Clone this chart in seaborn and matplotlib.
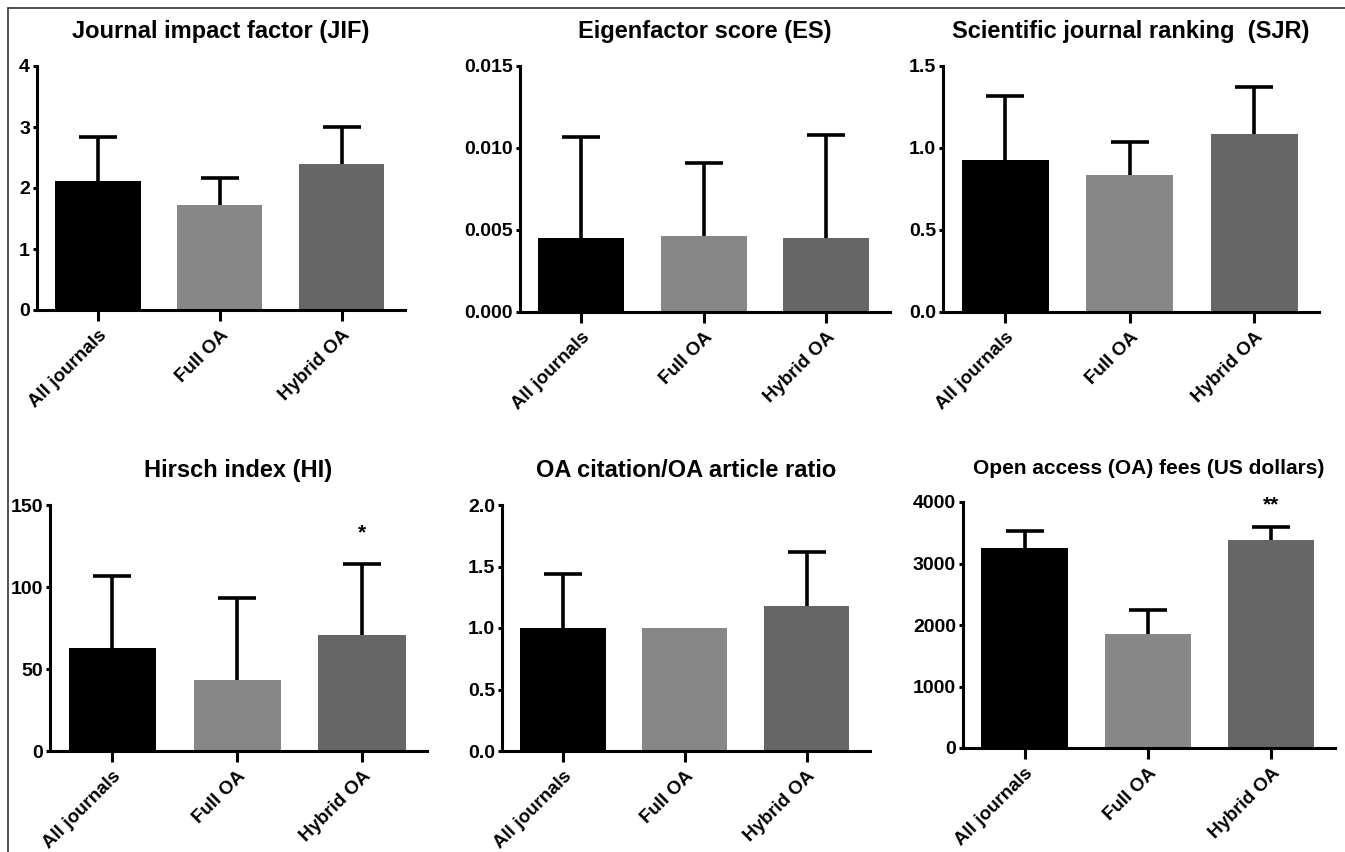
import numpy as np
import pandas as pd
import matplotlib
matplotlib.use("Agg")
import matplotlib.pyplot as plt
import seaborn as sns
from matplotlib.lines import Line2D

# journal groups (x categories)
groups = ["All journals", "Full OA", "Hybrid OA"]
bar_colors = ["#000000", "#878787", "#666666"]

# mean values and upper SD
jif_mean = [2.12, 1.72, 2.40]
jif_sd = [0.71, 0.44, 0.60]
es_mean = [0.00453, 0.00461, 0.00453]
es_sd = [0.00614, 0.00448, 0.00624]
sjr_mean = [0.925, 0.833, 1.083]
sjr_sd = [0.392, 0.204, 0.289]
hi_mean = [63, 43, 71]
hi_sd = [44, 50, 43]
ratio_mean = [1.00, 1.00, 1.18]
ratio_sd = [0.44, 0.0, 0.44]
fee_mean = [3257, 1859, 3377]
fee_sd = [271, 379, 216]

titles = ["Journal impact factor (JIF)", "Eigenfactor score (ES)",
          "Scientific journal ranking  (SJR)", "Hirsch index (HI)",
          "OA citation/OA article ratio", "Open access (OA) fees (US dollars)"]
y_ticks = [[0, 1, 2, 3, 4], [0, 0.005, 0.010, 0.015], [0, 0.5, 1.0, 1.5],
           [0, 50, 100, 150], [0, 0.5, 1.0, 1.5, 2.0], [0, 1000, 2000, 3000, 4000]]
y_fmt = ["{:.0f}", "{:.3f}", "{:.1f}", "{:.0f}", "{:.1f}", "{:.0f}"]

# significance marks: (panel, group index, y value, text)
sig_marks = [(3, 2, 133, "*"), (5, 2, 3960, "**")]

sns.set_style("white")
plt.rcParams["font.family"] = ["Liberation Sans", "DejaVu Sans"]
plt.rcParams["font.weight"] = "bold"
for key in ["text.color", "axes.labelcolor", "xtick.color", "ytick.color"]:
    plt.rcParams[key] = "black"

fig = plt.figure(figsize=(13.45, 8.52), dpi=100)
W, H = 1345, 852

# axes boxes in pixels: left, right, zero-line y, top y
boxes = [(37, 405, 310, 66), (520, 890, 312, 66), (943, 1319, 312, 66),
         (50, 427, 751, 505), (502, 870, 751, 505), (963, 1335, 748, 502)]

means = [jif_mean, es_mean, sjr_mean, hi_mean, ratio_mean, fee_mean]
sds = [jif_sd, es_sd, sjr_sd, hi_sd, ratio_sd, fee_sd]

for i, (l, r, yb, yt) in enumerate(boxes):
    ax = fig.add_axes([l / W, 1 - yb / H, (r - l) / W, (yb - yt) / H])
    df = pd.DataFrame({"group": groups, "value": means[i]})
    sns.barplot(data=df, x="group", y="value", hue="group", palette=bar_colors,
                width=0.7, saturation=1, legend=False, ax=ax, zorder=2)
    for p in ax.patches:
        p.set_edgecolor("none")
    sd = np.array(sds[i], dtype=float)
    m = np.array(means[i], dtype=float)
    idx = np.where(sd > 0)[0]
    eb = ax.errorbar(idx, m[idx], yerr=[np.zeros(len(idx)), sd[idx]], fmt="none",
                     ecolor="black", elinewidth=2.6, capsize=14, capthick=2.6, zorder=1)
    # upper-only error bars: hide the lower cap
    eb[1][0].set_visible(False)
    ax.set_xlim(-0.5, 2.52)
    ax.set_ylim(0, y_ticks[i][-1])
    ax.set_yticks(y_ticks[i])
    ax.set_yticklabels([y_fmt[i].format(v) for v in y_ticks[i]],
                       fontsize=14, fontweight="bold")
    ax.set_xticks(range(3))
    ax.set_xticklabels(groups, rotation=45, ha="right", rotation_mode="anchor",
                       fontsize=13.5, fontweight="bold")
    ax.set_xlabel("")
    ax.set_ylabel("")
    sns.despine(ax=ax)
    for s in ["left", "bottom"]:
        ax.spines[s].set_linewidth(2.2)
        ax.spines[s].set_color("black")
    ax.tick_params(axis="y", direction="out", length=3, width=2.2, pad=2, left=True)
    ax.tick_params(axis="x", direction="out", length=8, width=2.2, pad=4, bottom=True)
    fs = 15 if i == 5 else 17
    ax.set_title(titles[i], fontsize=fs, fontweight="bold", pad=20)

    for pi, gi, yv, txt in sig_marks:
        if pi == i:
            ax.text(gi, yv, txt, ha="center", va="center", fontsize=15,
                    fontweight="bold", color="black")

# thin frame lines on top and left of the figure
fig.add_artist(Line2D([8 / W, 1], [1 - 8 / H, 1 - 8 / H], color="#333333", lw=1.2))
fig.add_artist(Line2D([8 / W, 8 / W], [0, 1 - 8 / H], color="#333333", lw=1.2))

fig.savefig("out.png", dpi=100, facecolor="white")
